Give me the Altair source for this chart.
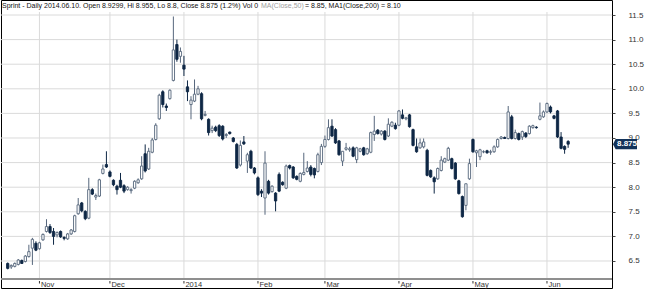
import altair as alt
import pandas as pd

# ---- data (trading-day index 0..159, 2013-10-21 .. 2014-06-10) ----
opens = [6.45,6.38,6.39,6.43,6.51,6.49,6.59,6.76,6.86,6.75,6.93,7.10,7.20,7.10,7.03,7.10,6.98,6.95,7.05,7.10,
         7.46,7.68,7.51,7.37,7.95,7.80,7.82,8.28,8.46,8.31,8.14,8.02,8.14,8.03,7.95,7.93,7.98,8.09,8.17,8.68,
         8.37,8.71,8.97,9.39,9.94,9.65,9.80,10.17,10.90,10.66,10.48,10.04,9.68,9.75,9.89,9.90,9.46,9.38,9.15,9.22,
         9.25,9.24,9.05,9.12,9.00,8.87,8.45,8.92,8.53,8.73,8.39,8.19,7.92,7.78,8.12,7.91,7.88,8.26,8.10,7.98,
         8.44,8.41,8.22,8.12,8.26,8.32,8.41,8.38,8.32,8.50,8.83,8.97,9.24,9.17,8.94,8.53,8.77,8.76,8.80,8.56,
         8.73,8.80,8.68,8.71,9.07,9.16,9.08,9.14,9.04,9.24,9.26,9.26,9.47,9.39,9.47,9.17,8.82,8.80,8.82,8.75,
         8.34,8.19,8.17,8.34,8.51,8.55,8.58,8.49,8.13,7.81,7.63,8.17,8.97,8.70,8.62,8.72,8.74,8.71,8.72,8.82,
         8.99,9.01,8.99,9.43,8.99,9.09,9.02,9.10,9.09,9.21,9.22,9.38,9.43,9.53,9.63,9.45,9.55,9.02,8.83,8.9299]
highs = [6.47,6.43,6.47,6.54,6.53,6.62,6.83,6.97,6.90,6.89,7.06,7.35,7.25,7.17,7.10,7.12,7.00,7.07,7.15,7.44,
         7.78,7.70,7.53,8.19,7.98,7.87,8.17,8.46,8.73,8.34,8.16,8.05,8.29,8.06,8.02,7.98,8.14,8.18,8.63,8.87,
         8.80,9.00,9.30,9.90,9.97,9.70,9.99,11.47,11.00,10.84,10.67,10.17,9.85,10.19,10.06,9.93,9.55,9.40,9.25,9.25,
         9.28,9.26,9.10,9.13,9.02,8.90,8.95,9.04,8.70,8.76,8.41,8.22,7.96,8.73,8.15,8.04,7.90,8.30,8.12,8.46,
         8.46,8.43,8.24,8.30,8.70,8.53,8.45,8.40,8.70,8.88,9.05,9.38,9.38,9.20,8.96,8.73,8.90,8.82,8.83,8.82,
         8.80,8.82,8.80,9.13,9.45,9.18,9.16,9.16,9.40,9.34,9.31,9.57,9.58,9.43,9.49,9.19,8.99,8.99,8.99,8.78,
         8.36,8.22,8.40,8.63,8.60,8.82,8.60,8.51,8.15,7.83,8.07,8.58,8.99,8.76,8.78,8.75,8.76,8.76,8.85,8.99,
         9.04,9.03,9.65,9.47,9.17,9.11,9.15,9.12,9.26,9.27,9.24,9.72,9.56,9.72,9.66,9.47,9.57,9.12,8.85,8.955]
lows = [6.33,6.34,6.37,6.41,6.44,6.47,6.57,6.42,6.70,6.73,6.91,7.08,7.05,6.83,6.98,6.97,6.92,6.93,7.03,7.08,
        7.44,7.49,7.33,7.35,7.84,7.74,7.80,8.26,8.39,8.20,8.02,7.85,7.98,7.88,7.93,7.87,7.96,8.07,8.15,8.30,
        8.35,8.69,8.95,9.37,9.62,9.55,9.78,10.15,10.55,10.53,10.26,9.75,9.38,9.73,9.87,9.36,9.44,9.05,9.10,9.12,
        9.02,8.95,9.00,9.07,8.91,8.37,8.42,8.86,8.29,8.37,8.26,7.82,7.80,7.44,7.85,7.89,7.51,7.90,8.03,7.96,
        8.36,8.17,8.14,8.10,8.24,8.30,8.22,8.18,8.30,8.45,8.80,8.95,9.02,8.88,8.64,8.43,8.74,8.72,8.61,8.49,
        8.71,8.64,8.66,8.69,8.94,9.07,9.05,8.95,9.02,9.22,9.17,9.24,9.38,9.36,9.21,8.83,8.70,8.78,8.79,8.22,
        8.19,7.87,8.15,8.32,8.49,8.53,8.36,8.15,7.85,7.38,7.53,8.15,8.70,8.41,8.55,8.69,8.68,8.66,8.70,8.80,
        8.97,8.98,8.97,8.97,8.97,8.95,8.96,9.00,9.07,9.19,9.19,9.36,9.41,9.51,9.50,9.38,9.00,8.77,8.68,8.8]
closes = [6.35,6.41,6.45,6.52,6.45,6.60,6.69,6.94,6.72,6.87,7.04,7.20,7.08,7.00,7.08,6.99,6.96,7.05,7.13,7.42,
          7.64,7.52,7.36,7.95,7.86,7.83,8.15,8.37,8.41,8.22,8.05,7.95,8.00,7.92,8.00,7.95,8.12,8.15,8.43,8.33,
          8.73,8.96,9.26,9.87,9.68,9.62,9.97,10.79,10.60,10.76,10.40,9.94,9.77,9.89,10.00,9.39,9.48,9.11,9.20,9.15,
          9.05,8.98,9.07,9.09,8.93,8.39,8.85,8.88,8.66,8.39,8.29,7.85,7.88,8.49,7.88,8.02,7.72,7.92,8.05,8.43,
          8.39,8.19,8.16,8.28,8.30,8.39,8.26,8.25,8.66,8.83,8.97,9.21,9.04,8.90,8.66,8.73,8.80,8.78,8.63,8.80,
          8.78,8.66,8.78,9.11,9.14,9.09,9.14,8.97,9.28,9.32,9.19,9.55,9.40,9.41,9.23,8.85,8.72,8.90,8.92,8.24,
          8.21,8.11,8.38,8.55,8.58,8.79,8.38,8.17,7.87,7.40,8.07,8.48,8.72,8.74,8.76,8.72,8.70,8.72,8.82,8.97,
          9.02,8.99,9.53,8.99,9.11,8.97,9.13,9.03,9.24,9.25,9.21,9.45,9.53,9.70,9.53,9.40,9.02,8.79,8.77,8.875]

month_names = ["Nov", "Dec", "2014", "Feb", "Mar", "Apr", "May", "Jun"]
month_index = [9, 29, 50, 71, 90, 111, 132, 153]
price_levels = [6.5, 7.0, 7.5, 8.0, 8.5, 9.0, 9.5, 10.0, 10.5, 11.0, 11.5]
last_close = ["8.875"]

title_main = "Sprint - Daily 2014.06.10. Open 8.9299, Hi 8.955, Lo 8.8, Close 8.875 (1.2%) Vol 0"
title_ma = "MA(Close,50)"
title_rest = "= 8.85, MA1(Close,200) = 8.10"

FONT = "Liberation Sans Narrow, Arial Narrow, Liberation Sans, Arial, sans-serif"
DARK = "#0e2745"
HOLLOW = "#56667c"
GRID = "#dadada"

df = pd.DataFrame({"i": range(len(closes)), "open": opens, "high": highs,
                   "low": lows, "close": closes})
df["up"] = df["close"] >= df["open"]

xs = alt.Scale(domain=[-0.488, 170.03], nice=False, zero=False)
ys = alt.Scale(domain=[5.951, 11.805], nice=False, zero=False)
yaxis = alt.Axis(orient="right", values=price_levels, format=".1f", grid=False, domain=False,
                 tickSize=3, tickColor="#444", tickWidth=1, labelPadding=13, labelFontSize=8,
                 labelColor="#333", labelFont=FONT, title=None)

color = alt.condition("datum.up", alt.value(HOLLOW), alt.value(DARK))
fill = alt.condition("datum.up", alt.value("#ffffff"), alt.value(DARK))

base = alt.Chart(df)

hgrid = alt.Chart(pd.DataFrame({"v": price_levels})).mark_rule(color=GRID, strokeWidth=1).encode(
    y=alt.Y("v:Q", scale=ys, axis=yaxis), x=alt.value(0), x2=alt.value(611))

mdf = pd.DataFrame({"i": month_index, "name": month_names})
vgrid = alt.Chart(mdf).mark_rule(color=GRID, strokeWidth=1).encode(
    x=alt.X("i:Q", scale=xs, axis=None), y=alt.value(12), y2=alt.value(278))

band = alt.Chart(mdf.head(1)).mark_rule(color="#8f8f8f", strokeWidth=2).encode(
    x=alt.value(0), x2=alt.value(611), y=alt.value(279))

wicks = base.mark_rule(strokeWidth=1).encode(
    x=alt.X("i:Q", scale=xs, axis=None),
    y=alt.Y("low:Q", scale=ys, axis=yaxis), y2="high:Q", color=color)

bodies = base.mark_bar(width=2.3, strokeWidth=0.9).encode(
    x=alt.X("i:Q", scale=xs, axis=None),
    y=alt.Y("open:Q", scale=ys, axis=yaxis), y2="close:Q", stroke=color, fill=fill)

mticks = alt.Chart(mdf).mark_rule(color="#333", strokeWidth=1).encode(
    x=alt.X("i:Q", scale=xs, axis=None), y=alt.value(281), y2=alt.value(283.5))
mlabels = alt.Chart(mdf).mark_text(align="left", baseline="alphabetic", dx=1.5, fontSize=7.5,
                                   font=FONT, color="#333").encode(
    x=alt.X("i:Q", scale=xs, axis=None), y=alt.value(287), text="name:N")

one = alt.Data(values=[{"a": 1}])
TS = 7
t1 = alt.Chart(one).mark_text(text=title_main, align="left", baseline="alphabetic", fontSize=TS,
                              font=FONT, color="#111").encode(x=alt.value(1), y=alt.value(8))
t2 = alt.Chart(one).mark_text(text=title_ma, align="left", baseline="alphabetic", fontSize=TS,
                              font=FONT, color="#a0a0a0").encode(x=alt.value(260), y=alt.value(8))
t3 = alt.Chart(one).mark_text(text=title_rest, align="left", baseline="alphabetic", fontSize=TS,
                              font=FONT, color="#111").encode(x=alt.value(304), y=alt.value(8))

tagdf = pd.DataFrame({"close": [closes[-1]], "label": last_close})
tag = alt.Chart(tagdf).mark_point(
    shape="M -1 0 L -0.78 -0.42 L 1 -0.42 L 1 0.42 L -0.78 0.42 Z",
    size=576, filled=True, color="#13335a", opacity=1).encode(
    x=alt.value(624), y=alt.Y("close:Q", scale=ys, axis=yaxis))
tagtext = alt.Chart(tagdf).mark_text(fontSize=8, font=FONT, color="#ffffff", fontWeight="bold",
                                     baseline="middle").encode(
    x=alt.value(626), y=alt.Y("close:Q", scale=ys, axis=yaxis), text="label:N")

chart = alt.layer(hgrid, vgrid, band, wicks, bodies, mticks, mlabels, t1, t2, t3, tag, tagtext).properties(
    width=611, height=288,
    autosize=alt.AutoSizeParams(type="none"),
    padding={"left": 1, "top": 0, "right": 33, "bottom": 1},
    background="#ffffff",
).configure_view(stroke="#000000", strokeWidth=1)

chart.save("out.html", embed_options={"renderer": "svg", "actions": False})
